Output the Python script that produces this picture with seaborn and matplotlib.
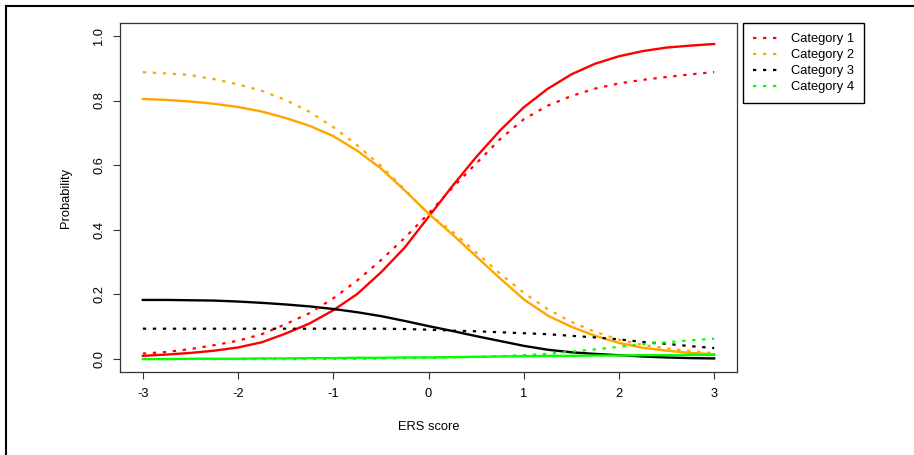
import numpy as np
import pandas as pd
import matplotlib.pyplot as plt
import seaborn as sns
from matplotlib.lines import Line2D

# ERS score grid and category probabilities
score = [-3.0, -2.75, -2.5, -2.25, -2.0, -1.75, -1.5, -1.25, -1.0, -0.75, -0.5, -0.25,
         0.0, 0.25, 0.5, 0.75, 1.0, 1.25, 1.5, 1.75, 2.0, 2.25, 2.5, 2.75, 3.0]

# solid lines
cat1_solid = [0.010, 0.014, 0.019, 0.026, 0.036, 0.052, 0.079, 0.110, 0.151, 0.201, 0.268, 0.345,
              0.440, 0.535, 0.625, 0.707, 0.779, 0.836, 0.881, 0.914, 0.937, 0.953, 0.964, 0.970, 0.975]
cat2_solid = [0.805, 0.802, 0.797, 0.790, 0.780, 0.766, 0.746, 0.722, 0.690, 0.645, 0.590, 0.522,
              0.450, 0.386, 0.318, 0.250, 0.185, 0.135, 0.100, 0.072, 0.050, 0.035, 0.026, 0.019, 0.015]
cat3_solid = [0.183, 0.183, 0.182, 0.181, 0.178, 0.174, 0.169, 0.163, 0.155, 0.145, 0.133, 0.118,
              0.102, 0.087, 0.071, 0.056, 0.041, 0.029, 0.021, 0.016, 0.012, 0.008, 0.005, 0.003, 0.002]
cat4_solid = [0.000, 0.000, 0.001, 0.001, 0.001, 0.002, 0.002, 0.003, 0.003, 0.004, 0.004, 0.005,
              0.005, 0.006, 0.007, 0.008, 0.009, 0.010, 0.010, 0.011, 0.011, 0.012, 0.012, 0.013, 0.013]

# dotted lines
cat1_dot = [0.017, 0.022, 0.031, 0.043, 0.057, 0.077, 0.108, 0.142, 0.188, 0.243, 0.306, 0.375,
            0.450, 0.530, 0.605, 0.680, 0.742, 0.784, 0.814, 0.837, 0.853, 0.864, 0.873, 0.881, 0.888]
cat2_dot = [0.888, 0.884, 0.879, 0.866, 0.850, 0.830, 0.802, 0.765, 0.718, 0.662, 0.598, 0.525,
            0.448, 0.395, 0.330, 0.265, 0.205, 0.155, 0.115, 0.084, 0.060, 0.044, 0.033, 0.025, 0.018]
cat3_dot = [0.094, 0.094, 0.094, 0.094, 0.094, 0.094, 0.094, 0.094, 0.094, 0.094, 0.094, 0.093,
            0.091, 0.088, 0.086, 0.083, 0.080, 0.077, 0.072, 0.067, 0.061, 0.053, 0.047, 0.040, 0.034]
cat4_dot = [0.000, 0.000, 0.000, 0.000, 0.000, 0.000, 0.000, 0.000, 0.001, 0.001, 0.002, 0.003,
            0.004, 0.005, 0.007, 0.009, 0.012, 0.016, 0.023, 0.030, 0.038, 0.046, 0.052, 0.058, 0.063]

labels = ["Category 1", "Category 2", "Category 3", "Category 4"]
colors = ["#FF0000", "#FFA500", "#000000", "#00FF00"]

plt.rcParams['font.family'] = ['Liberation Sans', 'DejaVu Sans']
plt.rcParams['font.size'] = 9.3

fig = plt.figure(figsize=(9.14, 4.55), dpi=100)
ax = fig.add_axes([120/914, 1 - 372/455, 617/914, 349/455])

dotted = (0, (1.5, 3))
solids = [cat1_solid, cat2_solid, cat3_solid, cat4_solid]
dots = [cat1_dot, cat2_dot, cat3_dot, cat4_dot]

for vals, col in zip(solids, colors):
    sns.lineplot(x=score, y=vals, color=col, linewidth=1.7, ax=ax,
                 legend=False, sort=False, errorbar=None)
for vals, col in zip(dots, colors):
    sns.lineplot(x=score, y=vals, color=col, linewidth=1.6, linestyle=dotted, ax=ax,
                 legend=False, sort=False, errorbar=None)

ax.set_xlim(-3.24, 3.24)
ax.set_ylim(-0.04, 1.04)
ax.set_xticks([-3, -2, -1, 0, 1, 2, 3])
ax.set_xticklabels(["-3", "-2", "-1", "0", "1", "2", "3"])
ax.set_yticks([0.0, 0.2, 0.4, 0.6, 0.8, 1.0])
ax.set_yticklabels(["0.0", "0.2", "0.4", "0.6", "0.8", "1.0"], rotation=90, va="center")
ax.tick_params(direction="out", length=5, width=0.8, color="#333333")
ax.tick_params(axis="x", pad=6.5)
ax.tick_params(axis="y", pad=5.5)
for sp in ax.spines.values():
    sp.set_linewidth(0.9)
    sp.set_color("#333333")

ax.set_xlabel("ERS score")
ax.set_ylabel("Probability")
ax.xaxis.set_label_coords(0.5, -0.140)
ax.yaxis.set_label_coords(-0.078, 0.5)

handles = [Line2D([0], [0], color=c, lw=1.6, linestyle=dotted) for c in colors]
leg = fig.legend(handles, labels, loc="upper left",
                 bbox_to_anchor=(743/914, 1 - 23/455), bbox_transform=fig.transFigure,
                 frameon=True, fancybox=False, edgecolor="black", framealpha=1,
                 borderaxespad=0, borderpad=0.8, handlelength=2.0, handletextpad=0.9,
                 labelspacing=0.3, fontsize=9.3)
leg.get_frame().set_linewidth(1.0)

# outer frame (left and top edges of the screenshot)
fig.add_artist(Line2D([6/914, 6/914], [0, 1 - 6/455], transform=fig.transFigure,
                      color="black", lw=1.5))
fig.add_artist(Line2D([6/914, 1], [1 - 6/455, 1 - 6/455], transform=fig.transFigure,
                      color="black", lw=1.5))

fig.savefig("out.png", dpi=100)
